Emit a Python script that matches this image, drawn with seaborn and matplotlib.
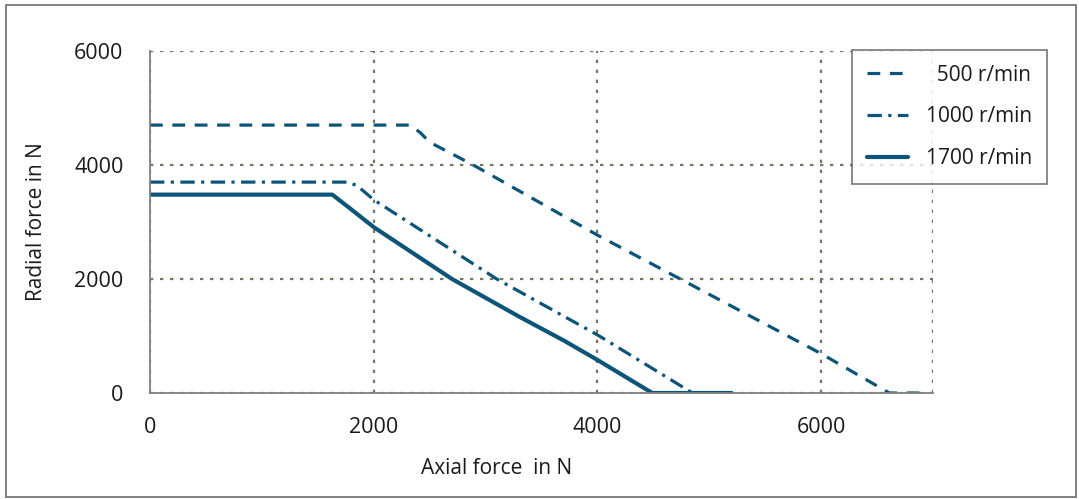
import numpy as np
import pandas as pd
import matplotlib
matplotlib.use("Agg")
import matplotlib.pyplot as plt
import seaborn as sns
from matplotlib.patches import Rectangle

# Permissible radial force vs axial force, per speed
axial_500 = [0, 2330, 2420, 2500, 2890, 4000, 6000, 6610, 6950]
radial_500 = [4700, 4700, 4560, 4400, 4000, 2770, 690, 0, 0]

axial_1000 = [0, 1760, 1850, 2000, 3100, 4000, 4850]
radial_1000 = [3700, 3700, 3640, 3390, 2000, 1020, 0]

axial_1700 = [0, 1630, 1800, 2000, 2700, 3300, 3700, 4000, 4490, 5200]
radial_1700 = [3480, 3480, 3220, 2910, 2000, 1340, 920, 580, 0, 0]

labels = ["  500 r/min", "1000 r/min", "1700 r/min"]
x_ticks = [0, 2000, 4000, 6000]
y_ticks = [0, 2000, 4000, 6000]

line_color = "#0c5578"
grid_color = "#757565"
text_color = "#1a1a1a"
fs = 15.5

sns.set_style("white")
plt.rcParams["font.family"] = ["Open Sans", "DejaVu Sans"]
plt.rcParams["font.size"] = fs
plt.rcParams["text.color"] = text_color
plt.rcParams["axes.labelcolor"] = text_color
plt.rcParams["xtick.color"] = text_color
plt.rcParams["ytick.color"] = text_color

fig = plt.figure(figsize=(10.79, 4.99), dpi=100)
ax = fig.add_axes([150 / 1079, 106 / 499, 783 / 1079, 342 / 499])

series = [
    (axial_500, radial_500, labels[0], (0, (4, 3)), 2.3),
    (axial_1000, radial_1000, labels[1], (0, (4.5, 2, 1, 2)), 2.3),
    (axial_1700, radial_1700, labels[2], "-", 3.0),
]
for xs, ys, lab, ls, lw in series:
    df = pd.DataFrame({"axial": xs, "radial": ys})
    sns.lineplot(data=df, x="axial", y="radial", ax=ax, color=line_color,
                 linestyle=ls, lw=lw, label=lab, sort=False, estimator=None)

ax.set_xlim(0, 7000)
ax.set_ylim(0, 6000)
ax.set_xticks(x_ticks)
ax.set_yticks(y_ticks)
ax.set_xticks([7000], minor=True)

ax.grid(True, which="both", linestyle=(0, (1.5, 3)), color=grid_color, lw=1.6)
ax.tick_params(which="major", direction="out", length=6, width=1, color="#333333",
               labelsize=fs)
ax.tick_params(which="minor", length=0)
ax.tick_params(axis="y", pad=13)
ax.tick_params(axis="x", pad=11)

for side in ["top", "right"]:
    ax.spines[side].set_visible(False)
for side in ["left", "bottom"]:
    ax.spines[side].set_color("#808080")
    ax.spines[side].set_linewidth(1.3)

ax.set_xlabel("Axial force  in N", fontsize=15)
ax.set_ylabel("Radial force in N", fontsize=15)
ax.xaxis.set_label_coords(0.443, -0.19)
ax.yaxis.set_label_coords(-0.132, 0.5)

leg = ax.legend(loc="upper right", bbox_to_anchor=(1047 / 1079, 449 / 499),
                bbox_transform=fig.transFigure, frameon=True, fancybox=False,
                handlelength=2.0, handletextpad=0.85, borderpad=0.7,
                borderaxespad=0, labelspacing=1.0, fontsize=15)
leg.get_frame().set_edgecolor("#555555")
leg.get_frame().set_linewidth(1.2)

# outer frame round the whole picture
fig.patches.append(Rectangle((6 / 1079, 2 / 499), 1070 / 1079, 492 / 499,
                             transform=fig.transFigure, fill=False,
                             edgecolor="#777777", lw=1.3))

fig.savefig("out.png", dpi=100)
